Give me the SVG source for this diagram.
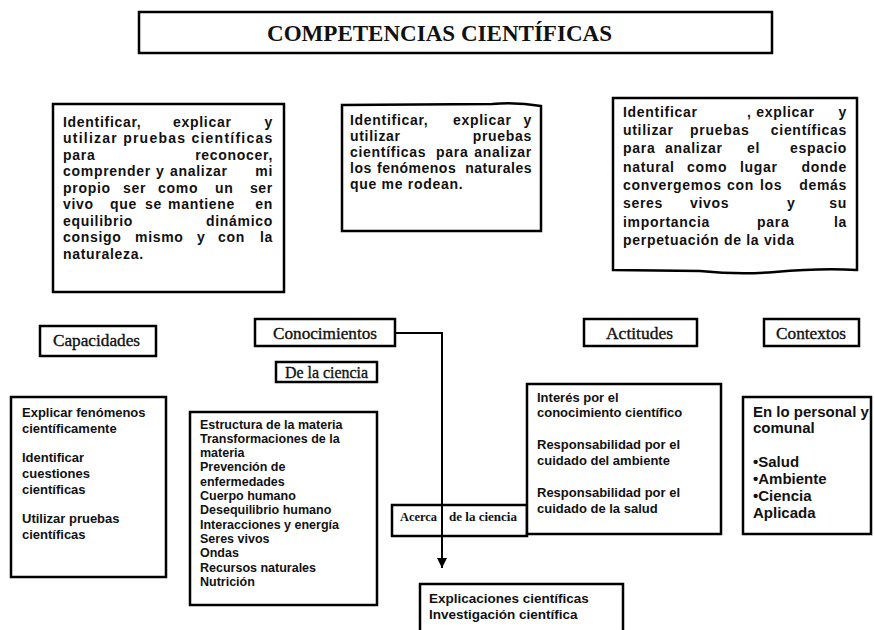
<svg xmlns="http://www.w3.org/2000/svg" width="874" height="630" viewBox="0 0 874 630">
<style>
.box{fill:#fff;stroke:#000;stroke-width:2.5}
.s{font-family:"Liberation Sans",Arial,sans-serif;font-weight:bold;fill:#111}
.p{font-size:14px;letter-spacing:0.7px}
.m{font-size:13px}
.n{font-size:12.5px}
.c{font-size:15px}
.e{font-size:13.5px}
.r{font-family:"Liberation Serif","Times New Roman",serif;fill:#111}
.lab{font-size:16.5px;font-weight:normal;stroke:#111;stroke-width:0.35}
.b{font-weight:bold}
.end{text-anchor:end}
</style>
<defs>
<marker id="ah" viewBox="0 0 10 10" refX="10" refY="5" markerWidth="10" markerHeight="10" markerUnits="userSpaceOnUse" orient="auto">
<path d="M0,0 L10,5 L0,10 z" fill="#000"/>
</marker>
</defs>
<rect width="874" height="630" fill="#fff"/>

<g id="title">
<rect class="box" x="139" y="12" width="633" height="41"/>
<text class="r b" x="267" y="41" font-size="22.5" textLength="345" lengthAdjust="spacingAndGlyphs">COMPETENCIAS  CIENTÍFICAS</text>
</g>

<g id="comp1">
<rect class="box" x="53" y="104" width="231" height="188"/>
<text class="s p" x="63" y="126.5">Identificar,</text>
<text class="s p" x="173" y="126.5">explicar</text>
<text class="s p end" x="273" y="126.5">y</text>
<text class="s p" x="63" y="143" textLength="210" lengthAdjust="spacing">utilizar pruebas científicas</text>
<text class="s p" x="63" y="159.5">para</text>
<text class="s p end" x="273" y="159.5">reconocer,</text>
<text class="s p" y="176"><tspan x="63">comprender</tspan><tspan x="156">y</tspan><tspan x="170">analizar</tspan></text>
<text class="s p end" x="273" y="176">mi</text>
<text class="s p" y="192.5"><tspan x="63">propio</tspan><tspan x="123">ser</tspan><tspan x="158">como</tspan><tspan x="215">un</tspan></text>
<text class="s p end" x="273" y="192.5">ser</text>
<text class="s p" y="209"><tspan x="63">vivo</tspan><tspan x="110">que</tspan><tspan x="145">se</tspan><tspan x="168">mantiene</tspan></text>
<text class="s p end" x="273" y="209">en</text>
<text class="s p" x="63" y="225.5">equilibrio</text>
<text class="s p end" x="273" y="225.5">dinámico</text>
<text class="s p" y="242"><tspan x="63">consigo</tspan><tspan x="135">mismo</tspan><tspan x="197">y</tspan><tspan x="218">con</tspan></text>
<text class="s p end" x="273" y="242">la</text>
<text class="s p" x="63" y="258.5">naturaleza.</text>
</g>

<g id="comp2">
<path class="box" d="M342,105 L492,104 Q517,102 541,106 L541,231 L342,231 Z"/>
<text class="s p" x="350" y="125">Identificar,</text>
<text class="s p" x="453" y="125">explicar</text>
<text class="s p end" x="532" y="125">y</text>
<text class="s p" x="350" y="141">utilizar</text>
<text class="s p end" x="532" y="141">pruebas</text>
<text class="s p" y="157"><tspan x="350">científicas</tspan><tspan x="436">para</tspan></text>
<text class="s p end" x="532" y="157">analizar</text>
<text class="s p" y="173" style="letter-spacing:0.5px"><tspan x="350">los</tspan><tspan x="377">fenómenos</tspan></text>
<text class="s p end" x="532" y="173" style="letter-spacing:0.5px">naturales</text>
<text class="s p" x="350" y="189">que me rodean.</text>
</g>

<g id="comp3">
<path class="box" d="M613,98 L857,98 L857,270 Q820,268 775,272 Q740,275 700,271 L613,270 Z"/>
<text class="s p" x="623" y="116.5">Identificar</text>
<text class="s p" x="747" y="116.5">, explicar</text>
<text class="s p end" x="847" y="116.5">y</text>
<text class="s p" y="135"><tspan x="623">utilizar</tspan><tspan x="690">pruebas</tspan></text>
<text class="s p end" x="847" y="135">científicas</text>
<text class="s p" y="153.3"><tspan x="623">para</tspan><tspan x="665">analizar</tspan><tspan x="747">el</tspan></text>
<text class="s p end" x="847" y="153.3">espacio</text>
<text class="s p" y="171.6"><tspan x="623">natural</tspan><tspan x="687">como</tspan><tspan x="740">lugar</tspan></text>
<text class="s p end" x="847" y="171.6">donde</text>
<text class="s p" y="190"><tspan x="623">convergemos</tspan><tspan x="727">con</tspan><tspan x="760">los</tspan></text>
<text class="s p end" x="847" y="190">demás</text>
<text class="s p" y="208.3"><tspan x="623">seres</tspan><tspan x="690">vivos</tspan><tspan x="787">y</tspan></text>
<text class="s p end" x="847" y="208.3">su</text>
<text class="s p" y="226.6"><tspan x="623">importancia</tspan><tspan x="757">para</tspan></text>
<text class="s p end" x="847" y="226.6">la</text>
<text class="s p" x="623" y="245">perpetuación de la vida</text>
</g>

<g id="capacidades">
<rect class="box" x="40" y="326" width="116" height="30"/>
<text class="r lab" x="53" y="346" textLength="87" lengthAdjust="spacingAndGlyphs">Capacidades</text>
</g>

<g id="conocimientos">
<rect class="box" x="255" y="319" width="140" height="27"/>
<text class="r lab" x="273" y="339" textLength="104" lengthAdjust="spacingAndGlyphs">Conocimientos</text>
</g>

<g id="de-la-ciencia">
<rect class="box" x="276" y="362" width="101" height="20"/>
<text class="r lab" x="285" y="378" font-size="15.5" textLength="83" lengthAdjust="spacingAndGlyphs">De  la ciencia</text>
</g>

<g id="actitudes">
<rect class="box" x="584" y="319" width="113" height="27"/>
<text class="r lab" x="606" y="339" textLength="67" lengthAdjust="spacingAndGlyphs">Actitudes</text>
</g>

<g id="contextos">
<rect class="box" x="764" y="319" width="95" height="27"/>
<text class="r lab" x="776" y="339" textLength="70" lengthAdjust="spacingAndGlyphs">Contextos</text>
</g>

<g id="capacidades-list">
<rect class="box" x="11" y="397" width="155" height="180"/>
<text class="s m" x="22" y="417">Explicar fenómenos</text>
<text class="s m" x="22" y="433">científicamente</text>
<text class="s m" x="22" y="462">Identificar</text>
<text class="s m" x="22" y="478">cuestiones</text>
<text class="s m" x="22" y="494">científicas</text>
<text class="s m" x="22" y="523">Utilizar pruebas</text>
<text class="s m" x="22" y="539">científicas</text>
</g>

<g id="conocimientos-list">
<rect class="box" x="190" y="412" width="187" height="193"/>
<text class="s n" x="200" y="428.5">Estructura de la materia</text>
<text class="s n" x="200" y="442.8">Transformaciones de la</text>
<text class="s n" x="200" y="457.1">materia</text>
<text class="s n" x="200" y="471.4">Prevención de</text>
<text class="s n" x="200" y="485.7">enfermedades</text>
<text class="s n" x="200" y="500">Cuerpo humano</text>
<text class="s n" x="200" y="514.3">Desequilibrio humano</text>
<text class="s n" x="200" y="528.6">Interacciones y energía</text>
<text class="s n" x="200" y="542.9">Seres vivos</text>
<text class="s n" x="200" y="557.2">Ondas</text>
<text class="s n" x="200" y="571.5">Recursos naturales</text>
<text class="s n" x="200" y="585.8">Nutrición</text>
</g>

<g id="acerca">
<rect class="box" x="392" y="505" width="135" height="31"/>
<text class="r b" x="400" y="521" font-size="11.5" textLength="37" lengthAdjust="spacingAndGlyphs">Acerca</text>
<text class="r b" x="449" y="521" font-size="11.5" textLength="68" lengthAdjust="spacingAndGlyphs">de  la ciencia</text>
</g>

<g id="actitudes-list">
<rect class="box" x="527" y="384" width="194" height="150"/>
<text class="s m" x="537" y="401.5">Interés por el</text>
<text class="s m" x="537" y="417">conocimiento científico</text>
<text class="s m" x="537" y="449">Responsabilidad por el</text>
<text class="s m" x="537" y="465">cuidado del ambiente</text>
<text class="s m" x="537" y="497">Responsabilidad por el</text>
<text class="s m" x="537" y="513">cuidado de la salud</text>
</g>

<g id="contextos-list">
<rect class="box" x="743" y="397" width="128" height="137"/>
<text class="s c" x="753" y="417">En lo personal y</text>
<text class="s c" x="753" y="433">comunal</text>
<text class="s c" x="753" y="467">•Salud</text>
<text class="s c" x="753" y="484">•Ambiente</text>
<text class="s c" x="753" y="501">•Ciencia</text>
<text class="s c" x="753" y="518">Aplicada</text>
</g>

<g id="acerca-list">
<rect class="box" x="420" y="584" width="203" height="60"/>
<text class="s e" x="429" y="602.5">Explicaciones científicas</text>
<text class="s e" x="429" y="618.5">Investigación científica</text>
</g>

<g id="connectors">
<path d="M395,333 H442 V568" fill="none" stroke="#000" stroke-width="2" marker-end="url(#ah)"/>
</g>
</svg>
